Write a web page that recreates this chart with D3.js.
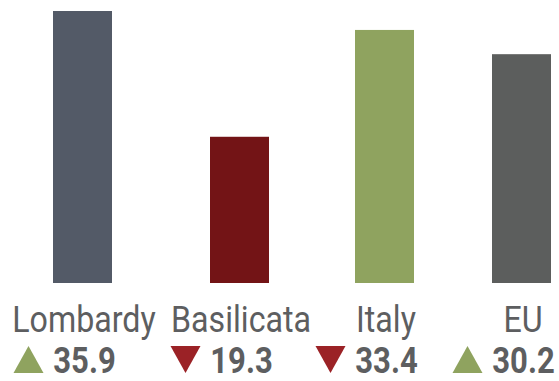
<!DOCTYPE html>
<html>
<head>
<meta charset="utf-8">
<script src="https://cdn.jsdelivr.net/npm/d3@7/dist/d3.min.js"></script>
<style>
  html, body { margin: 0; padding: 0; background: #fff; }
  svg { display: block; }
  .label { font-family: Roboto, "DejaVu Sans Condensed", sans-serif; fill: #5d5e60; }
</style>
</head>
<body>
<svg id="chart" width="559" height="381"></svg>
<script>
// Regions and their values
const categories = ["Lombardy", "Basilicata", "Italy", "EU"];
const values = [35.9, 19.3, 33.4, 30.2];
const trend = ["up", "down", "down", "up"];
const barColors = ["#535a67", "#731416", "#8fa35f", "#5c5e5d"];
const trendColors = { up: "#8fa35f", down: "#9b2226" };

const svg = d3.select("#chart");

// Bar centres sit at uneven horizontal spots
const x = d3.scaleOrdinal().domain(categories).range([82.5, 239.5, 384.5, 521.5]);
const barWidth = 59;
const y = d3.scaleLinear().domain([0, 35.9]).range([283, 11]);
const nameSqueeze = 0.87;  // condensed look for the names
const valueSqueeze = 0.84; // condensed look for the numbers

const data = categories.map((c, i) => ({ name: c, value: values[i], trend: trend[i], color: barColors[i] }));

svg.selectAll("rect.bar")
  .data(data)
  .join("rect")
  .attr("class", "bar")
  .attr("x", d => x(d.name) - barWidth / 2)
  .attr("width", barWidth)
  .attr("y", d => y(d.value))
  .attr("height", d => y(0) - y(d.value))
  .attr("fill", d => d.color);

// Category names
svg.selectAll("g.name")
  .data(data)
  .join("g")
  .attr("class", "name")
  .attr("transform", d => `translate(${x(d.name) + 1.5},332) scale(${nameSqueeze},1)`)
  .append("text")
  .attr("class", "label")
  .attr("text-anchor", "middle")
  .style("font-size", "37px")
  .text(d => d.name);

// Values with trend markers
svg.selectAll("g.val")
  .data(data)
  .join("g")
  .attr("class", "val")
  .attr("transform", d => `translate(${x(d.name) + 2},373) scale(${valueSqueeze},1)`)
  .append("text")
  .attr("class", "label")
  .attr("text-anchor", "middle")
  .style("font-size", "37px")
  .style("font-weight", "bold")
  .text(d => d3.format(".1f")(d.value));

const triW = 30, triH = 27;
svg.selectAll("path.tri")
  .data(data)
  .join("path")
  .attr("class", "tri")
  .attr("transform", d => `translate(${x(d.name) - 54},${346})`)
  .attr("d", d => d.trend === "up"
    ? `M${-triW/2},${triH}L${triW/2},${triH}L0,0Z`
    : `M${-triW/2},0L${triW/2},0L0,${triH}Z`)
  .attr("fill", d => trendColors[d.trend]);
</script>
</body>
</html>
